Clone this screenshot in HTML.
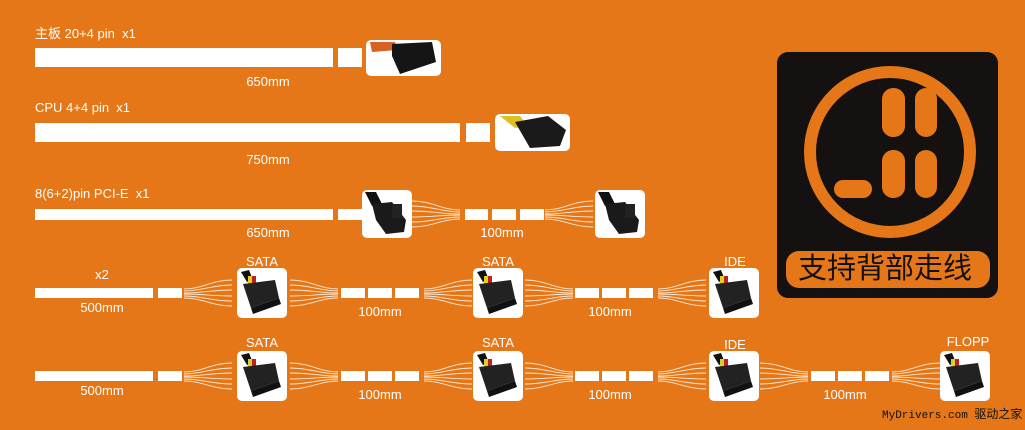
<!DOCTYPE html>
<html><head><meta charset="utf-8"><style>
html,body{margin:0;padding:0}
body{width:1025px;height:430px;background:#E57718;position:relative;overflow:hidden;font-family:"Liberation Sans","Noto Sans CJK SC",sans-serif;color:#fff}
.t{position:absolute;font-size:13px;white-space:nowrap;line-height:1}
.c{transform:translateX(-50%)}
.b{position:absolute;background:#fff}
.img{position:absolute;background:#fff;border-radius:5px;overflow:hidden}
</style></head><body>
<svg width="1025" height="430" style="position:absolute;left:0;top:0">
<defs>
<g id="conv" fill="none" stroke="#fde8d0" stroke-width="0.9">
<path d="M0,-13 C20,-13 30,-4 48,-4"/><path d="M0,-8 C20,-8 30,-2 48,-2"/><path d="M0,-3 C20,-3 30,0 48,0"/>
<path d="M0,3 C20,3 30,1 48,1"/><path d="M0,8 C20,8 30,3 48,3"/><path d="M0,13 C20,13 30,5 48,5"/>
</g>
<g id="div" transform="scale(-1,1) translate(-48,0)"><use href="#conv"/></g>
<g id="sata">
<rect width="50" height="50" rx="5" fill="#fff"/>
<path d="M4,4 L12,2 L16,12 L10,14Z" fill="#111"/><rect x="11" y="8" width="4" height="10" fill="#e0d020"/><rect x="15" y="8" width="4" height="10" fill="#c02020"/>
<path d="M6,16 L38,12 L42,30 L14,40 Z" fill="#222"/><path d="M14,40 L42,30 L44,36 L16,46Z" fill="#111"/>
</g>
<g id="pcie">
<rect width="50" height="48" rx="5" fill="#fff"/>
<path d="M3,2 L14,2 L20,14 L10,16Z" fill="#111"/>
<path d="M10,14 L30,12 L44,30 L42,42 L24,44 L14,30Z" fill="#1a1a1a"/>
<rect x="30" y="14" width="10" height="14" fill="#222"/>
</g>
</defs>
<!-- row3 wires -->
<use href="#conv" x="412" y="214"/><use href="#div" x="545" y="214"/>
<!-- row4 -->
<use href="#div" x="184" y="293"/><use href="#conv" x="290" y="293"/><use href="#div" x="424" y="293"/><use href="#conv" x="525" y="293"/><use href="#div" x="658" y="293"/>
<!-- row5 -->
<use href="#div" x="184" y="376"/><use href="#conv" x="290" y="376"/><use href="#div" x="424" y="376"/><use href="#conv" x="525" y="376"/><use href="#div" x="658" y="376"/><use href="#conv" x="760" y="376"/><use href="#div" x="892" y="376"/>
<!-- connectors -->
<use href="#pcie" x="362" y="190"/><use href="#pcie" x="595" y="190"/>
<use href="#sata" x="237" y="268"/><use href="#sata" x="473" y="268"/><use href="#sata" x="709" y="268"/>
<use href="#sata" x="237" y="351"/><use href="#sata" x="473" y="351"/><use href="#sata" x="709" y="351"/><use href="#sata" x="940" y="351"/>
<!-- row1 connector -->
<rect x="366" y="40" width="75" height="36" rx="5" fill="#fff"/>
<path d="M370,42 L395,42 L398,50 L372,52Z" fill="#d86020"/><path d="M392,44 L432,42 L436,62 L400,74 L392,56Z" fill="#151515"/>
<!-- row2 connector -->
<rect x="495" y="114" width="75" height="37" rx="5" fill="#fff"/>
<path d="M500,116 L520,116 L528,126 L515,128Z" fill="#e0c020"/><path d="M515,122 L548,116 L566,130 L560,146 L530,148Z" fill="#1a1a1a"/>
<!-- logo panel -->
<rect x="777" y="52" width="221" height="246" rx="11" fill="#151111"/>
<circle cx="890" cy="152" r="80" fill="none" stroke="#E57718" stroke-width="12"/>
<rect x="882" y="88" width="23" height="49" rx="11" fill="#E57718"/>
<rect x="915" y="88" width="22" height="49" rx="11" fill="#E57718"/>
<rect x="882" y="150" width="23" height="48" rx="11" fill="#E57718"/>
<rect x="915" y="150" width="22" height="48" rx="11" fill="#E57718"/>
<rect x="834" y="180" width="38" height="18" rx="9" fill="#E57718"/>
<rect x="786" y="251" width="204" height="37" rx="13" fill="#E57718"/>
</svg>
<div class="t" style="left:787px;top:255px;width:196px;text-align:center;font-size:29px;color:#151111">支持背部走线</div>

<div class="t" style="left:35px;top:27px">主板 20+4 pin&nbsp; x1</div>
<div class="b" style="left:35px;top:48px;width:298px;height:19px"></div>
<div class="b" style="left:338px;top:48px;width:24px;height:19px"></div>
<div class="t c" style="left:268px;top:75px">650mm</div>

<div class="t" style="left:35px;top:101px">CPU 4+4 pin&nbsp; x1</div>
<div class="b" style="left:35px;top:123px;width:425px;height:19px"></div>
<div class="b" style="left:466px;top:123px;width:24px;height:19px"></div>
<div class="t c" style="left:268px;top:153px">750mm</div>

<div class="t" style="left:35px;top:187px">8(6+2)pin PCI-E&nbsp; x1</div>
<div class="b" style="left:35px;top:209px;width:298px;height:11px"></div>
<div class="b" style="left:338px;top:209px;width:24px;height:11px"></div>
<div class="b" style="left:465px;top:209px;width:23px;height:11px"></div>
<div class="b" style="left:492px;top:209px;width:24px;height:11px"></div>
<div class="b" style="left:520px;top:209px;width:24px;height:11px"></div>
<div class="t c" style="left:268px;top:226px">650mm</div>
<div class="t c" style="left:502px;top:226px">100mm</div>

<div class="t c" style="left:102px;top:268px">x2</div>
<div class="b" style="left:35px;top:288px;width:118px;height:10px"></div>
<div class="b" style="left:158px;top:288px;width:24px;height:10px"></div>
<div class="t c" style="left:102px;top:301px">500mm</div>
<div class="t c" style="left:262px;top:255px">SATA</div>
<div class="t c" style="left:498px;top:255px">SATA</div>
<div class="t c" style="left:735px;top:255px">IDE</div>
<div class="b" style="left:341px;top:288px;width:24px;height:10px"></div>
<div class="b" style="left:368px;top:288px;width:24px;height:10px"></div>
<div class="b" style="left:395px;top:288px;width:24px;height:10px"></div>
<div class="t c" style="left:380px;top:305px">100mm</div>
<div class="b" style="left:575px;top:288px;width:24px;height:10px"></div>
<div class="b" style="left:602px;top:288px;width:24px;height:10px"></div>
<div class="b" style="left:629px;top:288px;width:24px;height:10px"></div>
<div class="t c" style="left:610px;top:305px">100mm</div>

<div class="b" style="left:35px;top:371px;width:118px;height:10px"></div>
<div class="b" style="left:158px;top:371px;width:24px;height:10px"></div>
<div class="t c" style="left:102px;top:384px">500mm</div>
<div class="t c" style="left:262px;top:336px">SATA</div>
<div class="t c" style="left:498px;top:336px">SATA</div>
<div class="t c" style="left:735px;top:338px">IDE</div>
<div class="t c" style="left:968px;top:335px">FLOPP</div>
<div class="b" style="left:341px;top:371px;width:24px;height:10px"></div>
<div class="b" style="left:368px;top:371px;width:24px;height:10px"></div>
<div class="b" style="left:395px;top:371px;width:24px;height:10px"></div>
<div class="t c" style="left:380px;top:388px">100mm</div>
<div class="b" style="left:575px;top:371px;width:24px;height:10px"></div>
<div class="b" style="left:602px;top:371px;width:24px;height:10px"></div>
<div class="b" style="left:629px;top:371px;width:24px;height:10px"></div>
<div class="t c" style="left:610px;top:388px">100mm</div>
<div class="b" style="left:811px;top:371px;width:24px;height:10px"></div>
<div class="b" style="left:838px;top:371px;width:24px;height:10px"></div>
<div class="b" style="left:865px;top:371px;width:24px;height:10px"></div>
<div class="t c" style="left:845px;top:388px">100mm</div>

<div class="t" style="left:882px;top:408px;font-family:'Liberation Mono','Noto Sans CJK SC',monospace;font-size:11px;color:#111">MyDrivers.com <span style="font-family:'Noto Sans CJK SC',sans-serif;font-size:12px">驱动之家</span></div>
</body></html>
